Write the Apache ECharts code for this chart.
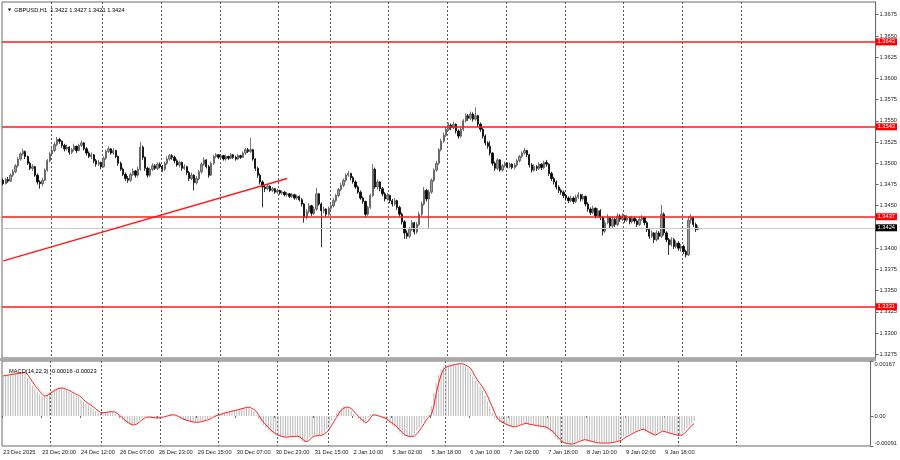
<!DOCTYPE html>
<html>
<head>
<meta charset="utf-8">
<title>GBPUSD H1</title>
<script src="https://cdn.jsdelivr.net/npm/echarts@6.0.0/dist/echarts.min.js"></script>
<style>
  html, body { margin: 0; padding: 0; background: #fff; }
  #chart { width: 900px; height: 460px; }
</style>
</head>
<body>
<div id="chart"></div>
<script>
// time scale labels, one every 16 hourly bars
const timeLabels = ['23 Dec 2025', '23 Dec 20:00', '24 Dec 12:00', '26 Dec 07:00', '26 Dec 23:00',
  '29 Dec 15:00', '30 Dec 07:00', '30 Dec 23:00', '31 Dec 15:00', '2 Jan 10:00', '5 Jan 02:00',
  '5 Jan 18:00', '6 Jan 10:00', '7 Jan 02:00', '7 Jan 18:00', '8 Jan 10:00', '9 Jan 02:00', '9 Jan 18:00'];
const barsPerLabel = 16;
const emptySlots = 72;   // free space right of the last bar

// GBPUSD H1 candles (open of each bar = close of the previous one)
const firstOpen = 1.3480;
const closes = [
  1.3476,1.3481,1.3479,1.3486,1.3490,1.3497,1.3505,1.3511,1.3514,1.3508,
  1.3500,1.3494,1.3496,1.3486,1.3478,1.3476,1.3480,1.3492,1.3503,1.3511,
  1.3515,1.3522,1.3528,1.3526,1.3521,1.3517,1.3519,1.3513,1.3516,1.3520,
  1.3515,1.3521,1.3524,1.3517,1.3512,1.3508,1.3510,1.3503,1.3499,1.3501,
  1.3496,1.3506,1.3514,1.3517,1.3512,1.3515,1.3508,1.3500,1.3493,1.3487,
  1.3482,1.3480,1.3487,1.3491,1.3486,1.3493,1.3519,1.3507,1.3494,1.3486,
  1.3493,1.3497,1.3494,1.3499,1.3496,1.3493,1.3500,1.3505,1.3509,1.3507,
  1.3503,1.3498,1.3501,1.3494,1.3496,1.3489,1.3482,1.3486,1.3477,1.3482,
  1.3490,1.3499,1.3504,1.3496,1.3486,1.3500,1.3508,1.3510,1.3507,1.3509,
  1.3505,1.3508,1.3506,1.3510,1.3507,1.3505,1.3509,1.3507,1.3512,1.3516,
  1.3514,1.3516,1.3505,1.3494,1.3486,1.3478,1.3472,1.3470,1.3473,1.3468,
  1.3470,1.3466,1.3468,1.3465,1.3466,1.3463,1.3464,1.3461,1.3463,1.3459,
  1.3461,1.3457,1.3452,1.3436,1.3443,1.3450,1.3441,1.3446,1.3464,1.3452,
  1.3444,1.3446,1.3440,1.3447,1.3450,1.3456,1.3462,1.3469,1.3474,1.3480,
  1.3486,1.3488,1.3483,1.3478,1.3472,1.3466,1.3459,1.3455,1.3440,1.3448,
  1.3462,1.3493,1.3472,1.3478,1.3470,1.3464,1.3458,1.3462,1.3456,1.3452,
  1.3456,1.3448,1.3440,1.3431,1.3418,1.3414,1.3422,1.3430,1.3419,1.3428,
  1.3440,1.3452,1.3468,1.3458,1.3466,1.3480,1.3492,1.3500,1.3516,1.3526,
  1.3533,1.3540,1.3545,1.3542,1.3546,1.3538,1.3532,1.3540,1.3550,1.3556,
  1.3553,1.3558,1.3552,1.3556,1.3546,1.3540,1.3532,1.3524,1.3520,1.3512,
  1.3500,1.3494,1.3504,1.3492,1.3497,1.3500,1.3496,1.3499,1.3495,1.3498,
  1.3503,1.3508,1.3512,1.3515,1.3510,1.3498,1.3492,1.3496,1.3494,1.3499,
  1.3495,1.3501,1.3499,1.3488,1.3482,1.3478,1.3472,1.3468,1.3466,1.3462,
  1.3459,1.3456,1.3459,1.3455,1.3460,1.3463,1.3458,1.3461,1.3452,1.3446,
  1.3442,1.3447,1.3438,1.3444,1.3436,1.3420,1.3430,1.3436,1.3426,1.3434,
  1.3428,1.3438,1.3434,1.3438,1.3433,1.3436,1.3431,1.3435,1.3432,1.3428,
  1.3434,1.3436,1.3430,1.3422,1.3414,1.3418,1.3410,1.3418,1.3414,1.3440,
  1.3418,1.3410,1.3404,1.3410,1.3402,1.3406,1.3400,1.3402,1.3396,1.3392,
  1.3433,1.3436,1.3428,1.3422,1.3424
];
const highs = [
  1.3482,1.3483,1.3484,1.3488,1.3493,1.3499,1.3507,1.3513,1.3517,1.3515,
  1.3509,1.3502,1.3499,1.3497,1.3488,1.3480,1.3483,1.3494,1.3505,1.3513,
  1.3518,1.3525,1.3531,1.3530,1.3527,1.3523,1.3522,1.3520,1.3518,1.3523,
  1.3521,1.3523,1.3527,1.3525,1.3519,1.3514,1.3513,1.3511,1.3505,1.3504,
  1.3502,1.3508,1.3516,1.3520,1.3518,1.3518,1.3516,1.3509,1.3502,1.3495,
  1.3489,1.3485,1.3489,1.3494,1.3492,1.3496,1.3525,1.3521,1.3508,1.3496,
  1.3495,1.3500,1.3499,1.3501,1.3501,1.3498,1.3502,1.3508,1.3511,1.3511,
  1.3509,1.3505,1.3503,1.3502,1.3499,1.3497,1.3491,1.3489,1.3487,1.3485,
  1.3492,1.3501,1.3507,1.3505,1.3498,1.3502,1.3510,1.3512,1.3511,1.3511,
  1.3510,1.3510,1.3509,1.3512,1.3511,1.3509,1.3511,1.3510,1.3514,1.3518,
  1.3518,1.3530,1.3517,1.3506,1.3496,1.3488,1.3480,1.3475,1.3475,1.3474,
  1.3472,1.3471,1.3470,1.3469,1.3468,1.3467,1.3466,1.3465,1.3465,1.3464,
  1.3463,1.3462,1.3459,1.3453,1.3446,1.3453,1.3451,1.3449,1.3471,1.3465,
  1.3454,1.3449,1.3447,1.3449,1.3453,1.3459,1.3464,1.3471,1.3477,1.3482,
  1.3488,1.3491,1.3489,1.3485,1.3480,1.3474,1.3468,1.3461,1.3456,1.3450,
  1.3464,1.3499,1.3495,1.3481,1.3479,1.3472,1.3466,1.3465,1.3463,1.3458,
  1.3459,1.3457,1.3450,1.3442,1.3433,1.3421,1.3425,1.3433,1.3431,1.3431,
  1.3443,1.3455,1.3472,1.3470,1.3469,1.3482,1.3494,1.3503,1.3518,1.3529,
  1.3536,1.3543,1.3548,1.3547,1.3549,1.3547,1.3540,1.3542,1.3552,1.3559,
  1.3558,1.3561,1.3560,1.3566,1.3557,1.3548,1.3542,1.3534,1.3526,1.3526,
  1.3513,1.3502,1.3506,1.3505,1.3499,1.3502,1.3501,1.3501,1.3500,1.3500,
  1.3505,1.3510,1.3514,1.3518,1.3516,1.3511,1.3500,1.3499,1.3498,1.3501,
  1.3500,1.3503,1.3504,1.3500,1.3490,1.3484,1.3480,1.3474,1.3470,1.3468,
  1.3464,1.3461,1.3462,1.3461,1.3463,1.3466,1.3464,1.3464,1.3462,1.3454,
  1.3448,1.3450,1.3448,1.3447,1.3446,1.3438,1.3433,1.3440,1.3437,1.3437,
  1.3436,1.3441,1.3440,1.3441,1.3439,1.3439,1.3437,1.3438,1.3437,1.3434,
  1.3437,1.3439,1.3437,1.3432,1.3424,1.3421,1.3419,1.3421,1.3420,1.3451,
  1.3442,1.3420,1.3412,1.3413,1.3412,1.3409,1.3408,1.3405,1.3404,1.3398,
  1.3438,1.3440,1.3437,1.3430,1.3427
];
const lows = [
  1.3474,1.3475,1.3477,1.3478,1.3484,1.3488,1.3495,1.3503,1.3509,1.3505,
  1.3498,1.3492,1.3491,1.3484,1.3475,1.3470,1.3473,1.3479,1.3490,1.3501,
  1.3509,1.3513,1.3520,1.3523,1.3518,1.3514,1.3515,1.3510,1.3511,1.3514,
  1.3512,1.3514,1.3519,1.3515,1.3509,1.3506,1.3505,1.3500,1.3496,1.3497,
  1.3493,1.3495,1.3504,1.3512,1.3510,1.3510,1.3506,1.3497,1.3491,1.3485,
  1.3479,1.3477,1.3478,1.3485,1.3483,1.3484,1.3491,1.3504,1.3491,1.3483,
  1.3484,1.3491,1.3492,1.3492,1.3494,1.3490,1.3491,1.3498,1.3503,1.3504,
  1.3500,1.3496,1.3495,1.3491,1.3492,1.3486,1.3479,1.3480,1.3468,1.3475,
  1.3480,1.3488,1.3497,1.3494,1.3483,1.3485,1.3498,1.3506,1.3505,1.3505,
  1.3503,1.3503,1.3504,1.3505,1.3505,1.3503,1.3504,1.3505,1.3506,1.3510,
  1.3512,1.3512,1.3503,1.3491,1.3483,1.3475,1.3448,1.3466,1.3468,1.3466,
  1.3466,1.3464,1.3464,1.3463,1.3463,1.3461,1.3461,1.3459,1.3459,1.3457,
  1.3457,1.3455,1.3449,1.3430,1.3434,1.3441,1.3438,1.3439,1.3444,1.3450,
  1.3401,1.3441,1.3437,1.3438,1.3445,1.3448,1.3454,1.3460,1.3467,1.3472,
  1.3478,1.3484,1.3480,1.3476,1.3470,1.3464,1.3457,1.3452,1.3436,1.3438,
  1.3446,1.3460,1.3470,1.3469,1.3467,1.3461,1.3455,1.3456,1.3453,1.3449,
  1.3450,1.3445,1.3437,1.3428,1.3411,1.3411,1.3412,1.3420,1.3416,1.3417,
  1.3426,1.3438,1.3450,1.3455,1.3424,1.3464,1.3478,1.3490,1.3498,1.3514,
  1.3524,1.3531,1.3538,1.3539,1.3540,1.3535,1.3529,1.3530,1.3538,1.3548,
  1.3550,1.3551,1.3549,1.3550,1.3543,1.3537,1.3529,1.3521,1.3517,1.3509,
  1.3497,1.3491,1.3492,1.3490,1.3490,1.3495,1.3494,1.3494,1.3493,1.3493,
  1.3496,1.3501,1.3506,1.3510,1.3507,1.3495,1.3489,1.3490,1.3491,1.3492,
  1.3492,1.3493,1.3496,1.3485,1.3479,1.3475,1.3469,1.3465,1.3463,1.3459,
  1.3456,1.3453,1.3454,1.3452,1.3453,1.3458,1.3455,1.3456,1.3449,1.3443,
  1.3439,1.3440,1.3435,1.3436,1.3433,1.3415,1.3418,1.3428,1.3423,1.3424,
  1.3425,1.3426,1.3431,1.3432,1.3430,1.3431,1.3428,1.3429,1.3429,1.3425,
  1.3426,1.3432,1.3427,1.3419,1.3411,1.3412,1.3406,1.3408,1.3410,1.3412,
  1.3415,1.3407,1.3392,1.3402,1.3399,1.3400,1.3397,1.3396,1.3393,1.3389,
  1.3391,1.3429,1.3425,1.3419,1.3421
];

// MACD(14,22,3): main (histogram) and signal (red line)
const macdMain = [
  0.00123,0.00124,0.00126,0.00127,0.00128,0.00129,0.00130,0.00131,0.00133,0.00128,
  0.00116,0.00104,0.00092,0.00083,0.00074,0.00066,0.00060,0.00060,0.00066,0.00072,
  0.00077,0.00081,0.00084,0.00086,0.00085,0.00082,0.00078,0.00074,0.00070,0.00066,
  0.00062,0.00058,0.00050,0.00043,0.00038,0.00033,0.00028,0.00022,0.00016,0.00011,
  0.00009,0.00011,0.00012,0.00013,0.00014,0.00012,0.00007,0.00001,-0.00005,-0.00012,
  -0.00018,-0.00023,-0.00027,-0.00029,-0.00025,-0.00018,-0.00012,-0.00006,-0.00003,-0.00002,
  -0.00004,-0.00005,-0.00006,-0.00007,-0.00005,-0.00003,-0.00001,0.00001,0.00003,0.00005,
  0.00003,-0.00001,-0.00005,-0.00009,-0.00012,-0.00014,-0.00016,-0.00018,-0.00020,-0.00020,
  -0.00018,-0.00016,-0.00014,-0.00012,-0.00009,-0.00005,-0.00001,0.00002,0.00005,0.00007,
  0.00009,0.00011,0.00013,0.00015,0.00016,0.00018,0.00020,0.00022,0.00024,0.00026,
  0.00028,0.00025,0.00020,0.00014,0.00003,-0.00009,-0.00019,-0.00028,-0.00036,-0.00043,
  -0.00049,-0.00054,-0.00058,-0.00061,-0.00063,-0.00064,-0.00065,-0.00063,-0.00062,-0.00062,
  -0.00061,-0.00064,-0.00070,-0.00077,-0.00080,-0.00074,-0.00064,-0.00060,-0.00060,-0.00059,
  -0.00058,-0.00054,-0.00049,-0.00040,-0.00028,-0.00015,-0.00003,0.00008,0.00018,0.00024,
  0.00028,0.00026,0.00023,0.00016,0.00007,-0.00002,-0.00008,-0.00015,-0.00021,-0.00016,
  -0.00005,0.00005,0.00004,0.00002,-0.00001,-0.00004,-0.00007,-0.00011,-0.00017,-0.00022,
  -0.00027,-0.00034,-0.00042,-0.00050,-0.00057,-0.00060,-0.00062,-0.00063,-0.00061,-0.00054,
  -0.00045,-0.00035,-0.00023,-0.00010,-0.00002,0.00004,0.00030,0.00070,0.00100,0.00125,
  0.00142,0.00148,0.00152,0.00153,0.00155,0.00157,0.00158,0.00160,0.00158,0.00155,
  0.00151,0.00146,0.00134,0.00120,0.00108,0.00099,0.00088,0.00076,0.00062,0.00045,
  0.00028,0.00010,-0.00006,-0.00013,-0.00019,-0.00022,-0.00026,-0.00029,-0.00031,-0.00033,
  -0.00032,-0.00029,-0.00026,-0.00024,-0.00022,-0.00024,-0.00026,-0.00027,-0.00029,-0.00030,
  -0.00031,-0.00032,-0.00033,-0.00037,-0.00042,-0.00047,-0.00056,-0.00064,-0.00072,-0.00079,
  -0.00082,-0.00084,-0.00085,-0.00086,-0.00083,-0.00080,-0.00077,-0.00074,-0.00072,-0.00073,
  -0.00075,-0.00077,-0.00079,-0.00081,-0.00082,-0.00082,-0.00083,-0.00082,-0.00082,-0.00081,
  -0.00080,-0.00078,-0.00076,-0.00074,-0.00069,-0.00064,-0.00060,-0.00056,-0.00052,-0.00048,
  -0.00045,-0.00042,-0.00040,-0.00043,-0.00047,-0.00051,-0.00055,-0.00058,-0.00055,-0.00050,
  -0.00046,-0.00047,-0.00050,-0.00052,-0.00054,-0.00056,-0.00058,-0.00059,-0.00058,-0.00053,
  -0.00045,-0.00037,-0.00029,-0.00023,-0.00016
];
const macdSignal = [
  0.00122,0.00123,0.00124,0.00126,0.00127,0.00128,0.00129,0.00130,0.00131,0.00132,
  0.00126,0.00115,0.00104,0.00093,0.00084,0.00075,0.00067,0.00061,0.00062,0.00067,
  0.00072,0.00077,0.00081,0.00084,0.00085,0.00084,0.00081,0.00078,0.00074,0.00070,
  0.00066,0.00063,0.00058,0.00050,0.00043,0.00038,0.00034,0.00028,0.00022,0.00016,
  0.00011,0.00010,0.00011,0.00012,0.00013,0.00013,0.00012,0.00007,0.00001,-0.00005,
  -0.00012,-0.00018,-0.00023,-0.00026,-0.00027,-0.00024,-0.00018,-0.00012,-0.00007,-0.00004,
  -0.00003,-0.00004,-0.00005,-0.00006,-0.00006,-0.00005,-0.00003,-0.00001,0.00001,0.00003,
  0.00004,0.00002,-0.00001,-0.00005,-0.00009,-0.00012,-0.00014,-0.00016,-0.00018,-0.00019,
  -0.00019,-0.00018,-0.00016,-0.00014,-0.00012,-0.00009,-0.00005,-0.00001,0.00002,0.00004,
  0.00007,0.00009,0.00011,0.00013,0.00015,0.00016,0.00018,0.00020,0.00022,0.00024,
  0.00026,0.00027,0.00024,0.00020,0.00014,0.00003,-0.00009,-0.00019,-0.00027,-0.00035,
  -0.00042,-0.00049,-0.00054,-0.00058,-0.00061,-0.00063,-0.00064,-0.00064,-0.00063,-0.00062,
  -0.00062,-0.00061,-0.00064,-0.00070,-0.00076,-0.00078,-0.00072,-0.00064,-0.00061,-0.00060,
  -0.00059,-0.00058,-0.00054,-0.00049,-0.00040,-0.00028,-0.00016,-0.00004,0.00008,0.00018,
  0.00024,0.00027,0.00026,0.00023,0.00016,0.00007,-0.00001,-0.00008,-0.00015,-0.00021,
  -0.00016,-0.00005,0.00004,0.00003,0.00001,-0.00001,-0.00004,-0.00006,-0.00011,-0.00017,
  -0.00022,-0.00027,-0.00034,-0.00042,-0.00050,-0.00057,-0.00060,-0.00062,-0.00062,-0.00061,
  -0.00054,-0.00045,-0.00035,-0.00023,-0.00010,-0.00002,0.00004,0.00030,0.00070,0.00100,
  0.00125,0.00142,0.00148,0.00151,0.00153,0.00155,0.00157,0.00158,0.00159,0.00158,
  0.00155,0.00151,0.00146,0.00134,0.00120,0.00108,0.00099,0.00088,0.00076,0.00062,
  0.00045,0.00028,0.00010,-0.00006,-0.00013,-0.00019,-0.00022,-0.00026,-0.00029,-0.00031,
  -0.00033,-0.00032,-0.00029,-0.00026,-0.00024,-0.00022,-0.00024,-0.00026,-0.00027,-0.00029,
  -0.00030,-0.00031,-0.00032,-0.00033,-0.00037,-0.00042,-0.00047,-0.00056,-0.00064,-0.00072,
  -0.00079,-0.00082,-0.00084,-0.00085,-0.00085,-0.00083,-0.00080,-0.00077,-0.00074,-0.00072,
  -0.00073,-0.00075,-0.00077,-0.00079,-0.00081,-0.00082,-0.00082,-0.00082,-0.00082,-0.00082,
  -0.00081,-0.00080,-0.00078,-0.00076,-0.00074,-0.00069,-0.00064,-0.00060,-0.00056,-0.00052,
  -0.00048,-0.00045,-0.00042,-0.00040,-0.00043,-0.00047,-0.00051,-0.00055,-0.00058,-0.00055,
  -0.00050,-0.00046,-0.00047,-0.00050,-0.00052,-0.00054,-0.00056,-0.00058,-0.00059,-0.00058,
  -0.00053,-0.00045,-0.00037,-0.00029,-0.00023
];

// drawn levels and trend line
const levels = [1.3643, 1.3543, 1.3437, 1.3331];
const trendFrom = [0, 1.3385];      // [bar, price]
const trendTo = [116, 1.3482];
// bars where the dotted vertical grid sits
const gridBars = [20, 41, 65, 89, 113, 134, 158, 182, 206, 230, 254, 278, 302];
const priceTicks = [1.3675, 1.3650, 1.3625, 1.3600, 1.3575, 1.3550, 1.3525, 1.3500, 1.3475,
  1.3450, 1.3425, 1.3400, 1.3375, 1.3350, 1.3325, 1.3300, 1.3275];
const macdTicks = [0.00167, 0, -0.00091];

const FONT = 'Liberation Sans, Arial, sans-serif';
const FS = 5.7;

const n = closes.length;
const slots = n + emptySlots;
const categories = [];
for (let i = 0; i < slots; i++) categories.push(String(i));

const opens = [firstOpen].concat(closes.slice(0, -1));
const candleData = closes.map((c, i) => [opens[i], c, lows[i], highs[i]]);
const lastPrice = closes[n - 1];

const isLabelBar = (i) => i % barsPerLabel === 0 && i / barsPerLabel < timeLabels.length;
const isGridBar = (i) => gridBars.indexOf(i) >= 0;

const headText = [opens[n - 1], highs[n - 1], lows[n - 1], closes[n - 1]].map(v => v.toFixed(4)).join(' ');
const macdText = 'MACD(14,22,3) ' + macdMain[n - 1].toFixed(5) + ' ' + macdSignal[n - 1].toFixed(5);

const gridLine = {
  show: true,
  interval: isGridBar,
  lineStyle: {color: '#5a5a5a', width: 1, type: [2, 2]}
};

function levelLabel(bg) {
  return {
    show: true,
    position: 'end',
    distance: 0,
    formatter: (p) => Number(p.value).toFixed(4),
    color: '#fff',
    backgroundColor: bg,
    padding: [1, 2, 0, 2],
    lineHeight: 6,
    fontSize: FS,
    fontFamily: FONT
  };
}

const chart = echarts.init(document.getElementById('chart'));

const option = {
  animation: false,
  backgroundColor: '#fff',
  textStyle: {fontFamily: FONT},
  title: [
    {
      left: 3, top: 2,
      text: '{tri|▼}  GBPUSD,H1  ' + headText,
      textStyle: {
        fontSize: FS, fontWeight: 'normal', color: '#000', fontFamily: FONT,
        rich: {tri: {fontSize: 4, color: '#000', fontFamily: 'DejaVu Sans'}}
      }
    },
    {
      left: 4, top: 363,
      text: macdText,
      textStyle: {fontSize: FS, fontWeight: 'normal', color: '#000', fontFamily: FONT}
    }
  ],
  graphic: [
    // separator between the price and the MACD windows
    {type: 'rect', shape: {x: 0, y: 358, width: 876, height: 3}, style: {fill: '#a8a8a8'}, silent: true}
  ],
  grid: [
    {left: 2, top: 2, width: 874, height: 356, show: true, borderColor: '#6a6a6a', borderWidth: 1},
    {left: 2, top: 361, width: 874, height: 85, show: true, borderColor: '#6a6a6a', borderWidth: 1}
  ],
  xAxis: [
    {
      type: 'category', gridIndex: 0, data: categories, boundaryGap: true,
      axisLine: {show: false}, axisTick: {show: false}, axisLabel: {show: false},
      splitLine: gridLine
    },
    {
      type: 'category', gridIndex: 1, data: categories, boundaryGap: true,
      axisLine: {show: false},
      axisTick: {show: true, interval: isLabelBar, length: 2, lineStyle: {color: '#6a6a6a'}},
      axisLabel: {
        show: true, interval: isLabelBar, align: 'left', margin: 3,
        fontSize: FS, color: '#222', fontFamily: FONT,
        formatter: (v, i) => timeLabels[i / barsPerLabel] || ''
      },
      splitLine: gridLine
    }
  ],
  yAxis: [
    {
      type: 'value', gridIndex: 0, position: 'right', min: 1.32706, max: 1.36900, scale: true,
      splitLine: {show: false},
      axisLine: {show: true, lineStyle: {color: '#6a6a6a'}},
      axisTick: {show: true, customValues: priceTicks, length: 3, lineStyle: {color: '#6a6a6a'}},
      axisLabel: {
        customValues: priceTicks, margin: 4, fontSize: FS, color: '#222', fontFamily: FONT,
        formatter: (v) => v.toFixed(4)
      }
    },
    {
      type: 'value', gridIndex: 1, position: 'right', min: -0.00091, max: 0.00167,
      splitLine: {show: false},
      axisLine: {show: true, lineStyle: {color: '#6a6a6a'}},
      axisTick: {show: true, customValues: macdTicks, length: 3, lineStyle: {color: '#6a6a6a'}},
      axisLabel: {
        customValues: macdTicks, margin: 4, fontSize: FS, color: '#222', fontFamily: FONT,
        // top and bottom values sit just inside the window, as in the terminal
        formatter: (v) => {
          if (v === 0) return '0.00';
          return (v > 0 ? '{top|' : '{bot|') + v.toFixed(5) + '}';
        },
        rich: {
          top: {fontSize: FS, color: '#222', fontFamily: FONT, padding: [7, 0, 0, 0]},
          bot: {fontSize: FS, color: '#222', fontFamily: FONT, padding: [0, 0, 5, 0]}
        }
      }
    }
  ],
  series: [
    {
      type: 'candlestick', xAxisIndex: 0, yAxisIndex: 0,
      data: candleData,
      barWidth: 1.8,
      clip: false,
      itemStyle: {
        color: '#9c9c9c', borderColor: '#505050',
        color0: '#000000', borderColor0: '#000000',
        borderWidth: 0.8
      },
      markLine: {
        silent: true,
        symbol: ['none', 'none'],
        animation: false,
        precision: 5,
        data: levels.map(v => ({
          yAxis: v,
          lineStyle: {color: '#ff1a1a', width: 1.6, type: 'solid'},
          label: levelLabel('#ff0000')
        })).concat([
          {
            yAxis: lastPrice,
            lineStyle: {color: '#c8c8c8', width: 1, type: 'solid'},
            label: levelLabel('#000000')
          },
          [
            {coord: trendFrom, lineStyle: {color: '#ff1a1a', width: 1.5, type: 'solid'}, label: {show: false}},
            {coord: trendTo}
          ]
        ])
      }
    },
    {
      type: 'bar', xAxisIndex: 1, yAxisIndex: 1,
      data: macdMain,
      barWidth: 1,
      itemStyle: {color: '#b8b8b8'}
    },
    {
      type: 'line', xAxisIndex: 1, yAxisIndex: 1,
      data: macdSignal,
      symbol: 'none',
      lineStyle: {color: '#ff2020', width: 1}
    }
  ]
};

chart.setOption(option);
</script>
</body>
</html>
